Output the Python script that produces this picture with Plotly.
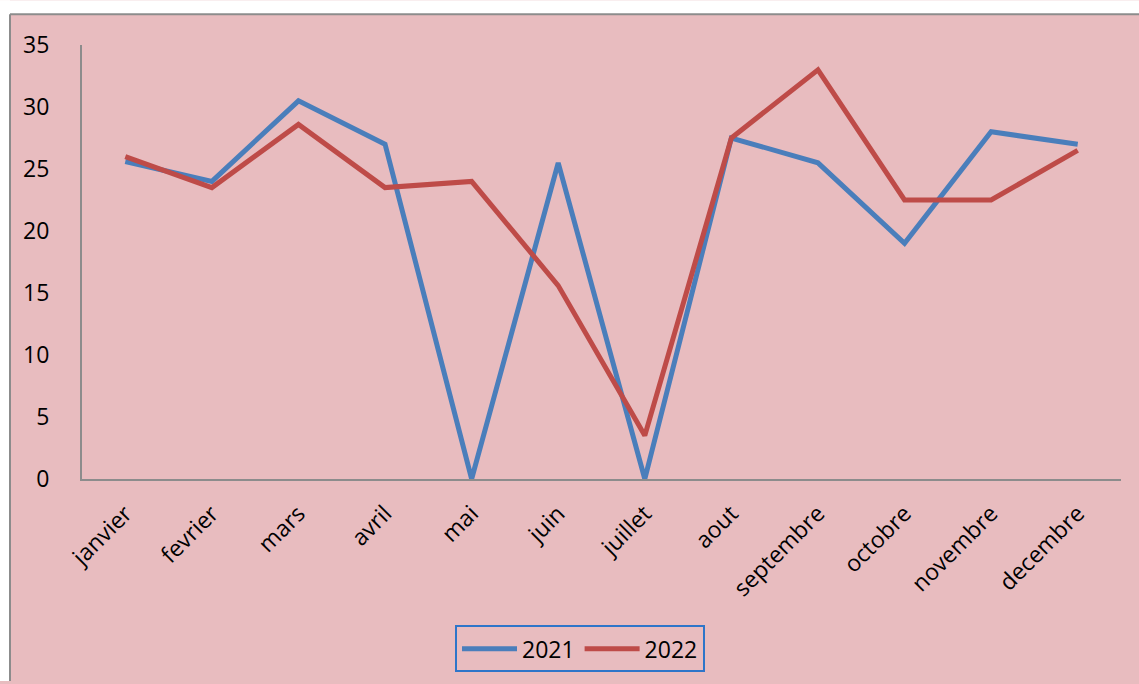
import plotly.graph_objects as go

months = ["janvier", "fevrier", "mars", "avril", "mai", "juin", "juillet",
          "aout", "septembre", "octobre", "novembre", "decembre"]
y2021 = [25.6, 24.0, 30.5, 27.0, 0, 25.5, 0, 27.5, 25.5, 19.0, 28.0, 27.0]
y2022 = [26.0, 23.5, 28.6, 23.5, 24.0, 15.6, 3.5, 27.5, 33.0, 22.5, 22.5, 26.5]

W, H = 1139, 684
L, R, T, B = 82, 18, 45, 203
pw, ph = W - L - R, H - T - B
pink = "#e8bcbf"
font = "Open Sans"

fig = go.Figure()
fig.add_trace(go.Scatter(x=months, y=y2021, name="2021", mode="lines",
                         line=dict(color="#4a7ebb", width=5)))
fig.add_trace(go.Scatter(x=months, y=y2022, name="2022", mode="lines",
                         line=dict(color="#be4b48", width=5)))

def px(x):
    return (x - L) / pw

def py(y):
    return (H - B - y) / ph

fig.update_layout(
    width=W, height=H,
    margin=dict(l=L, r=R, t=T, b=B),
    paper_bgcolor=pink, plot_bgcolor=pink,
    font=dict(family=font, size=23, color="#000"),
    showlegend=True,
    legend=dict(orientation="h", x=px(580), xanchor="center", y=py(628), yanchor="top",
                bordercolor="#2e75c9", borderwidth=2, bgcolor="rgba(0,0,0,0)",
                font=dict(size=23), itemwidth=55),
    xaxis=dict(showgrid=False, showline=True, linecolor="#8c8c8c", linewidth=2,
               ticks="", tickangle=-45, ticklabelstandoff=10, zeroline=False,
               range=[-0.5, len(months) - 0.5]),
    yaxis=dict(range=[0, 35], dtick=5, showgrid=False, showline=True,
               linecolor="#8c8c8c", linewidth=2, ticks="", zeroline=False,
               ticklabelstandoff=26),
    shapes=[
        dict(type="rect", xref="paper", yref="paper", x0=px(0), x1=px(W), y0=py(14), y1=py(0),
             fillcolor="white", line=dict(width=0), layer="above"),
        dict(type="rect", xref="paper", yref="paper", x0=px(0), x1=px(10), y0=py(H), y1=py(0),
             fillcolor="white", line=dict(width=0), layer="above"),
        dict(type="line", xref="paper", yref="paper", x0=px(10), x1=px(W), y0=py(14), y1=py(14),
             line=dict(color="#8c8c8c", width=2)),
        dict(type="line", xref="paper", yref="paper", x0=px(10), x1=px(10), y0=py(14), y1=py(H),
             line=dict(color="#8c8c8c", width=2)),
    ],
)

fig.write_html("out.html")
